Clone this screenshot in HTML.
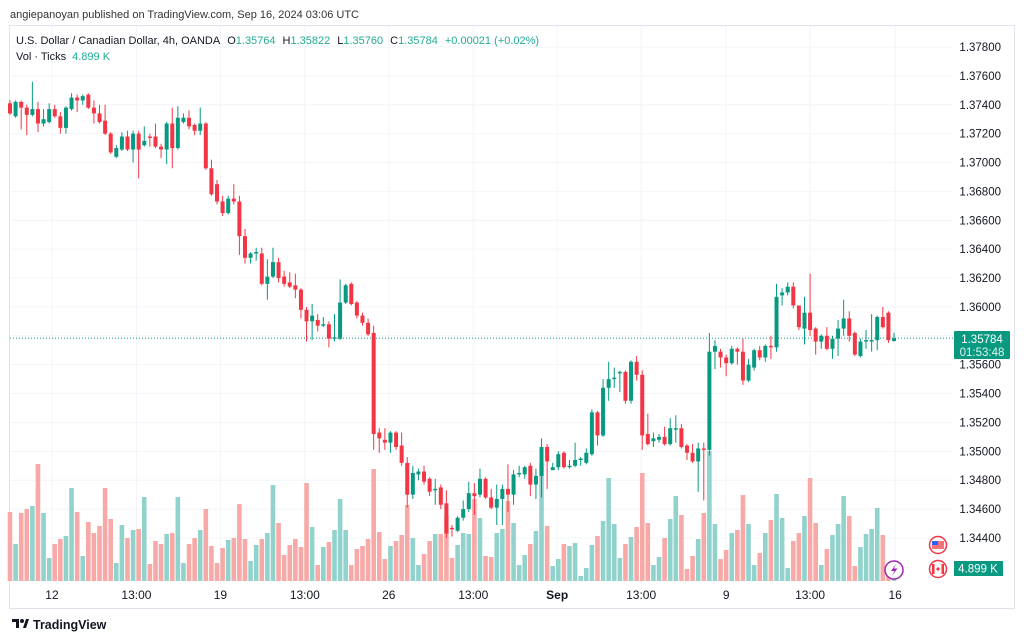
<!DOCTYPE html>
<html><head><meta charset="utf-8"><style>
html,body{margin:0;padding:0;background:#fff;width:1024px;height:641px;overflow:hidden;font-family:"Liberation Sans",sans-serif;}
svg{display:block}
</style></head><body>
<svg id="chart" width="1024" height="641" viewBox="0 0 1024 641" xmlns="http://www.w3.org/2000/svg" font-family="Liberation Sans, sans-serif">
<rect x="0" y="0" width="1024" height="641" fill="#fff"/>
<text x="10" y="18" font-size="11" fill="#333">angiepanoyan published on TradingView.com, Sep 16, 2024 03:06 UTC</text>
<rect x="9.5" y="25.5" width="1005" height="583" fill="none" stroke="#e0e3eb"/>
<g id="grid"></g>
<g id="vol"></g>
<g id="candles"></g>
<g id="axis"></g>
<g id="taxis"></g>
<g font-size="11">
<text x="16" y="44" fill="#131722">U.S. Dollar / Canadian Dollar, 4h, OANDA<tspan dx="7">O</tspan><tspan fill="#22ab94">1.35764</tspan><tspan dx="7">H</tspan><tspan fill="#22ab94">1.35822</tspan><tspan dx="7">L</tspan><tspan fill="#22ab94">1.35760</tspan><tspan dx="7">C</tspan><tspan fill="#22ab94">1.35784</tspan><tspan dx="7" fill="#22ab94">+0.00021 (+0.02%)</tspan></text>
<text x="16" y="60" fill="#131722">Vol · Ticks<tspan dx="6" fill="#22ab94">4.899 K</tspan></text>
</g>
<g><circle cx="938" cy="545" r="8.5" fill="#fff" stroke="#f23645" stroke-width="1.5"/><rect x="932" y="541" width="12" height="8" fill="#f23645" opacity="0.7"/><rect x="932" y="541" width="6" height="4" fill="#2962ff"/></g>
<g><circle cx="938" cy="569" r="8.5" fill="#fff" stroke="#f23645" stroke-width="1.5"/><rect x="932" y="564" width="2.5" height="10" fill="#f23645"/><rect x="941.5" y="564" width="2.5" height="10" fill="#f23645"/><circle cx="938" cy="569" r="1.6" fill="#f23645"/></g>
<g><circle cx="894" cy="570" r="9" fill="#fff" stroke="#9c27b0" stroke-width="1.5"/><path d="M896 564 L891 571 L894.5 571 L892 576 L897.5 568.5 L894 568.5 Z" fill="#9c27b0"/></g>
<g><rect x="954" y="331" width="56" height="28" rx="1" fill="#089981"/><text x="982" y="343" font-size="11.5" fill="#fff" text-anchor="middle">1.35784</text><text x="982" y="356" font-size="11.5" fill="#e0f2ef" text-anchor="middle">01:53:48</text></g>
<g><rect x="954" y="561" width="49" height="15" fill="#089981"/><text x="978" y="572.5" font-size="11.5" fill="#fff" text-anchor="middle">4.899 K</text></g>
<g><path d="M12 619 h7 v9 h-3 v-6 h-4z" fill="#131722"/><circle cx="22" cy="621" r="2" fill="#131722"/><path d="M23 628 l3 -9 h3 l-3 9z" fill="#131722"/><text x="33" y="629" font-size="12.5" font-weight="bold" fill="#131722">TradingView</text></g>
</svg>
<script>
const opens=[1.3741,1.3732,1.3742,1.3738,1.3733,1.3737,1.3727,1.3728,1.3737,1.3732,
1.3724,1.3737,1.3745,1.3743,1.3747,1.3738,1.3734,1.3729,1.3720,1.3704,
1.3709,1.3718,1.3709,1.3720,1.3712,1.3718,1.3718,1.3711,1.3709,1.3727,
1.3710,1.3728,1.3731,1.3726,1.3722,1.3727,1.3696,1.3685,1.3673,1.3665,
1.3675,1.3673,1.3649,1.3634,1.3637,1.3637,1.3616,1.3621,1.3631,1.3621,
1.3617,1.3615,1.3612,1.3598,1.3590,1.3591,1.3587,1.3588,1.3578,1.3578,
1.3603,1.3616,1.3603,1.3594,1.3589,1.3582,1.3513,1.3508,1.3506,1.3513,
1.3504,1.3492,1.3470,1.3484,1.3486,1.3481,1.3473,1.3475,1.3464,1.3447,
1.3445,1.3454,1.3460,1.3471,1.3470,1.3481,1.3468,1.3461,1.3467,1.3474,
1.3470,1.3484,1.3484,1.3490,1.3477,1.3483,1.3503,1.3487,1.3489,1.3499,
1.3489,1.3490,1.3494,1.3492,1.3498,1.3527,1.3511,1.3544,1.3550,1.3554,
1.3555,1.3535,1.3562,1.3553,1.3512,1.3507,1.3508,1.3510,1.3505,1.3515,
1.3516,1.3504,1.3499,1.3493,1.3502,1.3501,1.3569,1.3569,1.3565,1.3561,
1.3571,1.3569,1.3549,1.3558,1.3570,1.3565,1.3573,1.3572,1.3608,1.3610,
1.3614,1.3601,1.3585,1.3596,1.3585,1.3576,1.3580,1.3571,1.3578,1.3585,
1.3592,1.3582,1.3566,1.3576,1.3576,1.3577,1.3593,1.3596,1.35764];
const highs=[1.3743,1.3743,1.3743,1.3740,1.3756,1.3742,1.3737,1.3741,1.3740,1.3735,
1.3739,1.3748,1.3747,1.3747,1.3748,1.3743,1.3740,1.3740,1.3721,1.3712,
1.3721,1.3722,1.3722,1.3722,1.3725,1.3720,1.3727,1.3713,1.3728,1.3738,
1.3739,1.3734,1.3736,1.3727,1.3738,1.3728,1.3702,1.3688,1.3677,1.3677,
1.3685,1.3677,1.3654,1.3638,1.3641,1.3641,1.3633,1.3641,1.3634,1.3625,
1.3624,1.3623,1.3613,1.3600,1.3602,1.3595,1.3593,1.3590,1.3595,1.3619,
1.3616,1.3617,1.3604,1.3596,1.3592,1.3587,1.3516,1.3516,1.3514,1.3514,
1.3513,1.3496,1.3490,1.3488,1.3490,1.3482,1.3481,1.3477,1.3473,1.3449,
1.3455,1.3466,1.3479,1.3478,1.3488,1.3482,1.3474,1.3477,1.3477,1.3491,
1.3487,1.3490,1.3490,1.3492,1.3488,1.3509,1.3505,1.3492,1.3500,1.3500,
1.3494,1.3506,1.3496,1.3502,1.3529,1.3528,1.3550,1.3562,1.3558,1.3556,
1.3556,1.3563,1.3566,1.3556,1.3526,1.3513,1.3512,1.3517,1.3523,1.3525,
1.3519,1.3505,1.3505,1.3506,1.3506,1.3582,1.3577,1.3571,1.3567,1.3573,
1.3572,1.3578,1.3564,1.3571,1.3573,1.3574,1.3580,1.3616,1.3613,1.3617,
1.3617,1.3601,1.3607,1.3623,1.3586,1.3581,1.3586,1.3580,1.3591,1.3605,
1.3597,1.3583,1.3578,1.3584,1.3595,1.3594,1.3600,1.3597,1.35822];
const lows=[1.3733,1.3731,1.3723,1.3719,1.3732,1.3721,1.3725,1.3727,1.3731,1.3720,
1.3720,1.3736,1.3735,1.3740,1.3737,1.3727,1.3727,1.3719,1.3706,1.3703,
1.3708,1.3708,1.3700,1.3689,1.3711,1.3711,1.3710,1.3703,1.3699,1.3696,
1.3709,1.3727,1.3723,1.3719,1.3719,1.3695,1.3677,1.3671,1.3663,1.3664,
1.3671,1.3636,1.3630,1.3630,1.3632,1.3615,1.3605,1.3620,1.3617,1.3614,
1.3613,1.3606,1.3592,1.3576,1.3577,1.3583,1.3586,1.3572,1.3576,1.3577,
1.3602,1.3601,1.3592,1.3587,1.3580,1.3501,1.3499,1.3501,1.3499,1.3501,
1.3490,1.3461,1.3467,1.3480,1.3477,1.3469,1.3463,1.3460,1.3440,1.3441,
1.3444,1.3452,1.3458,1.3456,1.3468,1.3467,1.3460,1.3449,1.3449,1.3458,
1.3463,1.3482,1.3481,1.3469,1.3467,1.3468,1.3474,1.3487,1.3487,1.3488,
1.3488,1.3489,1.3490,1.3491,1.3497,1.3504,1.3510,1.3535,1.3544,1.3541,
1.3533,1.3533,1.3549,1.3501,1.3504,1.3503,1.3506,1.3504,1.3504,1.3506,
1.3502,1.3494,1.3492,1.3472,1.3466,1.3497,1.3557,1.3558,1.3552,1.3560,
1.3560,1.3546,1.3548,1.3556,1.3563,1.3562,1.3564,1.3569,1.3601,1.3608,
1.3599,1.3584,1.3574,1.3580,1.3567,1.3571,1.3570,1.3564,1.3566,1.3580,
1.3576,1.3566,1.3565,1.3571,1.3569,1.3570,1.3585,1.3575,1.35760];
const closes=[1.3734,1.3742,1.3738,1.3733,1.3737,1.3727,1.3730,1.3737,1.3732,1.3724,
1.3738,1.3745,1.3743,1.3746,1.3738,1.3734,1.3728,1.3720,1.3707,1.3710,
1.3718,1.3709,1.3720,1.3709,1.3715,1.3717,1.3711,1.3709,1.3727,1.3710,
1.3731,1.3731,1.3725,1.3722,1.3727,1.3696,1.3678,1.3673,1.3665,1.3675,
1.3673,1.3649,1.3634,1.3637,1.3638,1.3616,1.3621,1.3631,1.3620,1.3616,
1.3614,1.3612,1.3598,1.3590,1.3594,1.3587,1.3588,1.3578,1.3579,1.3603,
1.3615,1.3602,1.3594,1.3589,1.3581,1.3512,1.3509,1.3506,1.3513,1.3503,
1.3492,1.3470,1.3485,1.3486,1.3479,1.3472,1.3474,1.3463,1.3443,1.3446,
1.3454,1.3460,1.3471,1.3469,1.3481,1.3468,1.3461,1.3467,1.3474,1.3470,
1.3484,1.3485,1.3489,1.3477,1.3483,1.3503,1.3493,1.3489,1.3498,1.3489,
1.3490,1.3494,1.3495,1.3499,1.3527,1.3511,1.3544,1.3550,1.3551,1.3555,
1.3535,1.3562,1.3553,1.3511,1.3505,1.3509,1.3510,1.3505,1.3516,1.3516,
1.3503,1.3499,1.3493,1.3502,1.3501,1.3569,1.3573,1.3565,1.3561,1.3571,
1.3569,1.3549,1.3560,1.3570,1.3565,1.3573,1.3572,1.3607,1.3610,1.3614,
1.3601,1.3586,1.3596,1.3584,1.3576,1.3580,1.3571,1.3578,1.3585,1.3592,
1.3580,1.3567,1.3576,1.3577,1.3577,1.3593,1.3586,1.3577,1.35784];
const volumes=[69,37,68,72,75,117,68,23,37,42,
45,93,69,25,59,48,55,93,62,18,
56,43,51,52,84,17,40,37,47,48,
84,18,37,43,51,72,35,18,33,41,
43,77,42,20,36,42,48,96,58,26,
36,42,34,98,54,16,34,39,51,82,
51,16,32,35,42,112,49,22,35,40,
46,76,43,16,27,40,47,47,64,23,
36,48,47,82,63,25,24,48,52,80,
58,16,26,37,50,118,55,15,22,37,
35,38,5,13,36,45,60,103,57,23,
37,44,54,108,58,16,24,43,62,85,
66,12,25,42,68,130,57,22,31,48,
51,86,57,16,28,48,61,87,63,13,
40,48,65,103,58,16,32,46,57,85,
65,15,34,47,52,73,46,10,4.899];
const priceTicks=[1.378,1.376,1.374,1.372,1.370,1.368,1.366,1.364,1.362,1.360,1.358,1.356,1.354,1.352,1.350,1.348,1.346,1.344];
const timeLabels=["12","13:00","19","13:00","26","13:00","Sep","13:00","9","13:00","16"];
const timeLabelIdx=[7.5,22.6,37.6,52.7,67.7,82.8,97.8,112.8,128,143,158.2];
const lastPrice=1.35784;

const NS="http://www.w3.org/2000/svg";
function yP(p){return 47+(1.378-p)*14440;}
function xI(i){return 10+i*5.595;}
function yV(v){return 581-v;}
function mk(tag,attrs,parent){const e=document.createElementNS(NS,tag);for(const k in attrs)e.setAttribute(k,attrs[k]);parent.appendChild(e);return e;}

const grid=document.getElementById('grid');
priceTicks.forEach(p=>{
  const l=mk('line',{x1:10,x2:953,y1:yP(p),y2:yP(p),stroke:'#f2f4f9','stroke-width':1},grid);
  
  
});
timeLabelIdx.forEach(i=>{
  const l=mk('line',{x1:xI(i),x2:xI(i),y1:26,y2:584,stroke:'#f2f4f9','stroke-width':1},grid);
  
  
});
const axis=document.getElementById('axis');
priceTicks.forEach(p=>{
  const t=mk('text',{x:1001,y:yP(p)+4,'font-size':11.5,fill:'#131722','text-anchor':'end'},axis);
  t.textContent=p.toFixed(5);
  
  
});
const taxis=document.getElementById('taxis');
timeLabels.forEach((s,k)=>{
  const t=mk('text',{x:xI(timeLabelIdx[k]),y:599,'font-size':12,fill:'#131722','text-anchor':'middle','font-weight':s==='Sep'?'bold':'normal'},taxis);
  t.textContent=s;
  
  
});
const vol=document.getElementById('vol');
volumes.forEach((v,i)=>{
  const up=closes[i]>=opens[i];
  const r=mk('rect',{x:xI(i)-2.3,y:yV(v),width:4.6,height:581-yV(v),fill:up?'#92d2cc':'#f7a9a7'},vol);
  
  
});
const cg=document.getElementById('candles');
const pl=mk('line',{x1:10,x2:953,y1:yP(lastPrice),y2:yP(lastPrice),stroke:'#089981','stroke-width':1,'stroke-dasharray':'1 2'},cg);


opens.forEach((o,i)=>{
  const c=closes[i],up=c>=o,col=up?'#089981':'#f23645',x=xI(i);
  const w=mk('line',{x1:x,x2:x,y1:yP(highs[i]),y2:yP(lows[i]),stroke:col,'stroke-width':1},cg);
  
  
  const t=yP(Math.max(o,c)),b=yP(Math.min(o,c));
  const r=mk('rect',{x:x-2,y:t,width:4,height:Math.max(1,b-t),fill:col},cg);
  
  
});
</script>
</body></html>
